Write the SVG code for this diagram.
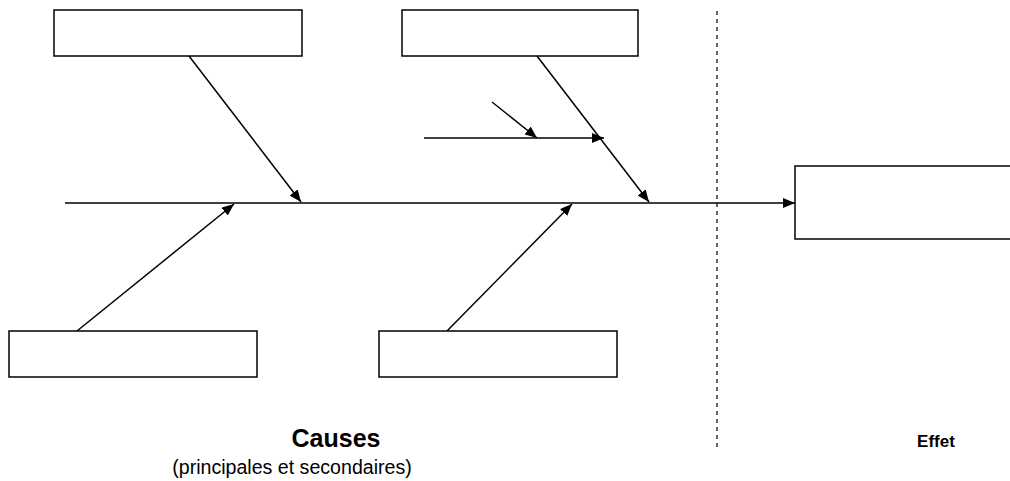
<svg xmlns="http://www.w3.org/2000/svg" width="1010" height="481" viewBox="0 0 1010 481">
<style>
.box{fill:#fff;stroke:#000;stroke-width:1.5}
.ln{stroke:#000;stroke-width:1.5;fill:none}
.lab{font-family:"Liberation Sans",Arial,sans-serif;fill:#000}
</style>
<defs>
<marker id="ah" markerUnits="userSpaceOnUse" markerWidth="13" markerHeight="10" refX="12" refY="5" orient="auto">
<path d="M0,0 L12,5 L0,10 z" fill="#000"/>
</marker>
</defs>
<rect width="1010" height="481" fill="#fff"/>
<g id="connectors">
<line class="ln" x1="65" y1="203" x2="795" y2="203" marker-end="url(#ah)"/>
<line class="ln" x1="189" y1="56" x2="301" y2="202" marker-end="url(#ah)"/>
<line class="ln" x1="537" y1="56" x2="649" y2="202" marker-end="url(#ah)"/>
<line class="ln" x1="424" y1="138" x2="604" y2="138" marker-end="url(#ah)"/>
<line class="ln" x1="492" y1="102" x2="537" y2="138" marker-end="url(#ah)"/>
<line class="ln" x1="77" y1="331" x2="234" y2="204" marker-end="url(#ah)"/>
<line class="ln" x1="447" y1="331" x2="572" y2="204" marker-end="url(#ah)"/>
</g>
<g id="divider">
<line x1="717" y1="11" x2="717" y2="448" stroke="#000" stroke-width="1.2" stroke-dasharray="4 4"/>
</g>
<g id="cause-top-left"><rect class="box" x="54" y="10" width="248" height="46"/></g>
<g id="cause-top-mid"><rect class="box" x="402" y="10" width="236" height="46"/></g>
<g id="cause-bottom-left"><rect class="box" x="9" y="331" width="248" height="46"/></g>
<g id="cause-bottom-mid"><rect class="box" x="379" y="331" width="238" height="46"/></g>
<g id="effect"><rect class="box" x="795" y="166" width="220" height="73"/></g>
<g id="labels">
<text class="lab" x="336" y="447" text-anchor="middle" font-size="25" font-weight="bold">Causes</text>
<text class="lab" x="292" y="474" text-anchor="middle" font-size="19.6">(principales et secondaires)</text>
<text class="lab" x="936" y="447" text-anchor="middle" font-size="17" font-weight="bold">Effet</text>
</g>
</svg>
